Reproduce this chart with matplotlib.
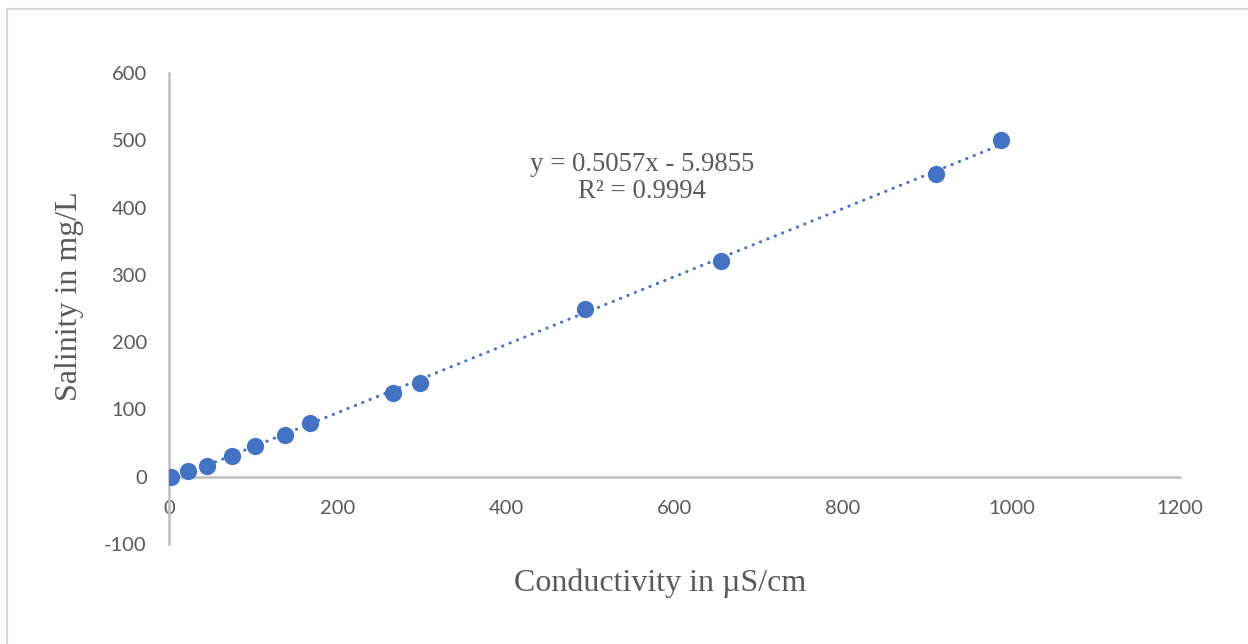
import matplotlib.pyplot as plt
from matplotlib.patches import Rectangle

plt.rcParams['axes.unicode_minus'] = False

# readings from the calibration chart
conductivity = [2.5, 22.5, 45, 75, 102, 138, 167, 266, 298, 494, 655, 910, 987]
salinity = [0, 8, 16, 31, 45, 62, 80, 125, 140, 250, 320, 450, 500]
slope = 0.5057
intercept = -5.9855
r_squared = 0.9994
x_ticks = [0, 200, 400, 600, 800, 1000, 1200]
y_ticks = [-100, 0, 100, 200, 300, 400, 500, 600]

blue = '#4472C4'
grey_txt = '#595959'
axis_grey = '#BFBFBF'

fig = plt.figure(figsize=(12.48, 6.44), dpi=100)
fig.patches.append(Rectangle((7 / 1248, -0.1), 1.2, 1.1 - 9.5 / 644,
                             transform=fig.transFigure, fill=False,
                             edgecolor='#D9D9D9', linewidth=1.5))

ax = fig.add_axes([169 / 1248, 1 - 544 / 644, (1180 - 169) / 1248, (544 - 73) / 644])
ax.set_xlim(0, 1200)
ax.set_ylim(-100, 600)

for s in ['top', 'right']:
    ax.spines[s].set_visible(False)
ax.spines['bottom'].set_position(('data', 0))
ax.spines['bottom'].set_color(axis_grey)
ax.spines['left'].set_color(axis_grey)
ax.spines['bottom'].set_linewidth(1.8)
ax.spines['left'].set_linewidth(1.8)

ax.set_xticks(x_ticks)
ax.set_yticks(y_ticks)
ax.tick_params(length=0, labelsize=14.5, labelcolor=grey_txt)
ax.tick_params(axis='x', pad=17)
ax.tick_params(axis='y', pad=16)
for lab in ax.get_xticklabels() + ax.get_yticklabels():
    lab.set_fontfamily('Lato')

# linear trendline over the data range
x0, x1 = min(conductivity), max(conductivity)
ax.plot([x0, x1], [slope * x0 + intercept, slope * x1 + intercept],
        color=blue, linewidth=2.2, linestyle=(0, (0.1, 2.5)),
        dash_capstyle='round', zorder=2)

ax.scatter(conductivity, salinity, s=155, color=blue, zorder=3, linewidths=0)

fig.text(642 / 1248, 1 - 178 / 644, f'y = {slope}x - {abs(intercept)}\nR² = {r_squared}',
         ha='center', va='center', fontsize=19.3, color=grey_txt,
         family='Liberation Serif', linespacing=1.12)

fig.text(660 / 1248, 1 - 583 / 644, 'Conductivity in µS/cm', ha='center', va='center',
         fontsize=23, color=grey_txt, family='Liberation Serif')
fig.text(70 / 1248, 1 - 296 / 644, 'Salinity in mg/L', ha='center', va='center',
         rotation=90, fontsize=23, color=grey_txt, family='Liberation Serif')

fig.savefig('out.png', dpi=100)
